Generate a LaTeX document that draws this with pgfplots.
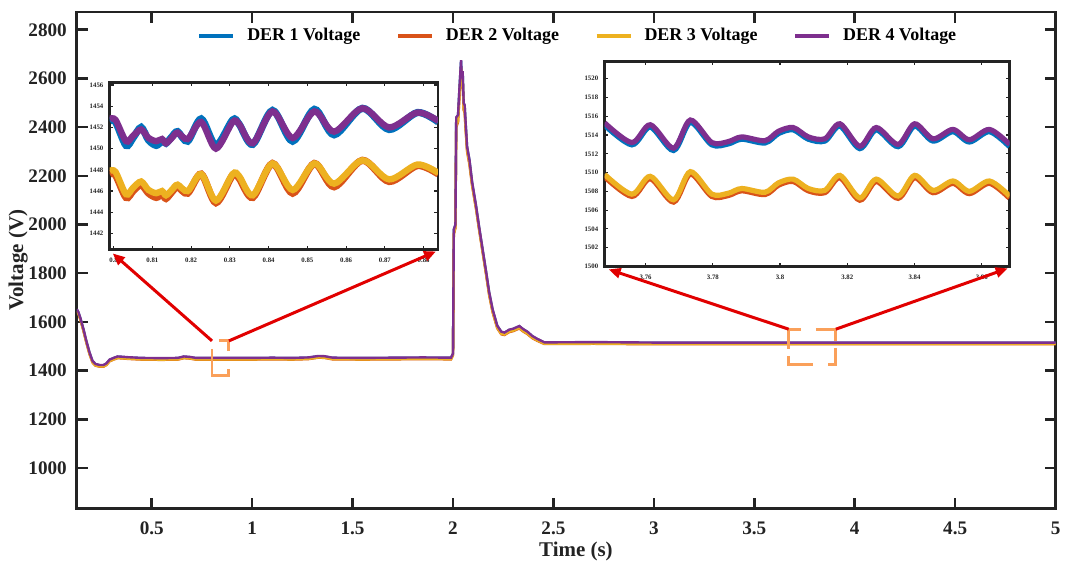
\documentclass[border=0pt]{standalone}
\usepackage{fontspec}
\setmainfont{Liberation Serif}
\usepackage{pgfplots}
\pgfplotsset{compat=1.18}
\usepackage{pgfplotstable}
\usetikzlibrary{arrows.meta}

\definecolor{der1}{rgb}{0,0.447,0.741}
\definecolor{der2}{rgb}{0.85,0.325,0.098}
\definecolor{der3}{rgb}{0.929,0.694,0.125}
\definecolor{der4}{rgb}{0.494,0.184,0.556}
\definecolor{zoomrect}{RGB}{250,160,90}
\definecolor{arrowred}{RGB}{225,0,0}
\definecolor{axcol}{RGB}{35,35,35}

\pgfplotstableread{
t v1 v2 v3 v4
0.127 1651 1645 1646 1652
0.135 1639 1633 1634 1640
0.145 1614 1608 1609 1615
0.160 1569 1563 1564 1570
0.175 1519 1513 1514 1520
0.190 1474 1468 1469 1475
0.205 1439 1433 1434 1440
0.220 1426 1420 1421 1427
0.240 1422 1416 1417 1423
0.260 1422 1416 1417 1423
0.275 1429 1423 1424 1430
0.290 1444 1438 1439 1445
0.310 1451 1445 1446 1452
0.330 1457 1451 1452 1458
0.350 1456 1450 1451 1457
0.380 1454 1448 1449 1455
0.450 1451 1445 1446 1452
0.550 1450 1444 1445 1451
0.630 1451 1445 1446 1452
0.660 1457 1451 1452 1458
0.690 1455 1449 1450 1456
0.720 1451 1445 1446 1452
0.850 1451 1445 1446 1452
1.000 1451 1445 1446 1452
1.100 1452 1446 1447 1453
1.200 1451 1445 1446 1452
1.280 1453 1447 1448 1454
1.330 1459 1453 1454 1460
1.360 1458 1452 1453 1459
1.400 1452 1446 1447 1453
1.550 1451 1445 1446 1452
1.700 1452 1446 1447 1453
1.850 1453 1447 1448 1454
1.990 1452 1446 1447 1453
2.000 1469 1463 1464 1470
2.004 1979 1960 1962 1980
2.012 1999 1985 1988 2000
2.016 2438 2400 2405 2440
2.025 2448 2420 2425 2450
2.032 2558 2520 2525 2560
2.040 2672 2640 2645 2675
2.044 2598 2560 2565 2600
2.048 2628 2590 2595 2630
2.053 2498 2470 2475 2500
2.058 2488 2460 2465 2490
2.062 2428 2400 2405 2430
2.070 2318 2300 2305 2320
2.082 2263 2245 2250 2265
2.095 2173 2160 2162 2175
2.115 2073 2062 2064 2075
2.130 1988 1978 1980 1990
2.147 1898 1888 1890 1900
2.165 1803 1793 1795 1805
2.180 1720 1710 1712 1722
2.197 1650 1640 1642 1652
2.220 1584 1574 1576 1585
2.240 1559 1549 1551 1560
2.256 1555 1546 1548 1556
2.280 1567 1558 1560 1568
2.300 1571 1562 1564 1572
2.330 1582 1573 1575 1583
2.350 1569 1560 1562 1570
2.370 1559 1550 1552 1560
2.395 1541 1533 1535 1542
2.420 1529 1522 1524 1530
2.455 1515 1509 1510 1516
2.500 1515 1509 1510 1516
2.700 1516 1510 1511 1517
3.000 1514 1508 1509 1515
3.500 1514 1508 1509 1515
4.000 1514 1508 1509 1515
4.500 1514 1508 1509 1515
5.000 1514 1508 1509 1515
}\maindata

\pgfplotstableread{
t v1 v2 v3 v4
0.7990 1452.6 1447.6 1447.9 1452.8
0.8005 1452.5 1447.5 1447.8 1452.7
0.8032 1450.3 1445.4 1445.7 1450.7
0.8050 1451.0 1446.0 1446.3 1451.2
0.8071 1452.0 1446.6 1446.9 1451.8
0.8090 1450.8 1445.8 1446.1 1451.0
0.8110 1450.3 1445.4 1445.8 1450.7
0.8125 1450.7 1445.7 1446.0 1450.9
0.8135 1450.5 1445.3 1445.6 1450.5
0.8150 1451.1 1445.9 1446.1 1451.0
0.8165 1451.6 1446.4 1446.6 1451.5
0.8191 1450.7 1445.8 1446.0 1450.9
0.8226 1452.8 1447.6 1447.6 1452.5
0.8264 1450.3 1444.9 1445.1 1450.0
0.8307 1452.7 1447.5 1447.6 1452.5
0.8324 1452.3 1447.2 1447.4 1452.3
0.8359 1450.4 1445.4 1445.6 1450.5
0.8410 1453.6 1448.6 1448.6 1453.5
0.8462 1450.7 1445.8 1446.1 1451.0
0.8518 1453.7 1448.6 1448.6 1453.5
0.8569 1451.3 1446.4 1446.7 1451.6
0.8642 1453.8 1448.9 1448.9 1453.8
0.8711 1451.8 1446.9 1447.1 1452.0
0.8784 1453.4 1448.4 1448.5 1453.4
0.8838 1452.5 1447.6 1447.7 1452.6
}\insetA

\pgfplotstableread{
t v1 v2 v3 v4
3.7478 1515.1 1509.6 1509.8 1515.3
3.7559 1513.0 1507.5 1507.7 1513.2
3.7614 1514.9 1509.4 1509.6 1515.1
3.7683 1512.4 1506.9 1507.1 1512.6
3.7733 1515.4 1509.9 1510.1 1515.6
3.7797 1513.0 1507.5 1507.7 1513.2
3.7846 1513.1 1507.6 1507.8 1513.3
3.7886 1513.6 1508.1 1508.3 1513.8
3.7955 1513.2 1507.7 1507.9 1513.4
3.7995 1514.2 1508.7 1508.9 1514.4
3.8039 1514.6 1509.1 1509.3 1514.8
3.8084 1513.6 1508.1 1508.3 1513.8
3.8133 1513.4 1507.9 1508.1 1513.6
3.8178 1515.0 1509.5 1509.7 1515.2
3.8237 1512.6 1507.1 1507.3 1512.8
3.8286 1514.6 1509.1 1509.3 1514.8
3.8351 1512.8 1507.3 1507.5 1513.0
3.8400 1515.0 1509.5 1509.7 1515.2
3.8455 1513.4 1507.9 1508.1 1513.6
3.8514 1514.4 1508.9 1509.1 1514.6
3.8563 1513.3 1507.8 1508.0 1513.5
3.8623 1514.4 1508.9 1509.1 1514.6
3.8683 1512.8 1507.3 1507.5 1513.0
}\insetB

\pgfplotsset{
  insetstyle/.style={
    scale only axis, anchor=south west,
    axis background/.style={fill=white},
    tick align=inside, tick pos=both,
    major tick length=1.8pt,
    tick style={line width=0.6pt, color=axcol},
    axis line style={line width=1.4pt, color=axcol},
    ticklabel style={font=\bfseries\fontsize{3.4}{4}\selectfont, color=axcol},
    /pgf/number format/assume math mode=true,
    /pgf/number format/1000 sep={},
    scaled ticks=false,
    xticklabel style={yshift=-1pt},
    yticklabel style={xshift=0.3pt},
    clip=true,
  },
}

\begin{document}
\begin{tikzpicture}
\begin{axis}[
  name=main, at={(0,0)}, anchor=south west,
  scale only axis, width=490.5pt, height=249pt,
  xmin=0.127, xmax=5, ymin=832, ymax=2873,
  xtick={0.5,1,1.5,2,2.5,3,3.5,4,4.5,5},
  ytick={1000,1200,1400,1600,1800,2000,2200,2400,2600,2800},
  tick align=inside, tick pos=both,
  major tick length=5.5pt,
  tick style={line width=1.3pt, color=axcol},
  axis line style={line width=1.4pt, color=axcol},
  ticklabel style={font=\bfseries\fontsize{9.6}{11}\selectfont, color=axcol},
  /pgf/number format/assume math mode=true,
  /pgf/number format/1000 sep={},
  scaled ticks=false,
  xticklabel style={yshift=-3pt},
  yticklabel style={xshift=-1.5pt},
  xlabel={Time (s)}, ylabel={Voltage (V)},
  label style={font=\bfseries\fontsize{10.5}{12}\selectfont, color=axcol},
  xlabel style={at={(axis description cs:0.51,-0.086)}, anchor=center},
  ylabel style={at={(axis description cs:-0.060,0.5)}, anchor=center},
  legend columns=4,
  legend style={at={(axis description cs:0.513,0.952)}, anchor=center,
    draw=none, fill=none,
    font=\bfseries\fontsize{9}{10}\selectfont,
    /tikz/every even column/.append style={column sep=16pt},
    /tikz/every odd column/.append style={column sep=4pt}},
  legend image post style={line width=1.8pt},
]
\addplot[der1, line width=1.2pt] table[x=t,y=v1] {\maindata};
\addlegendentry{DER 1 Voltage}
\addplot[der2, line width=1.2pt] table[x=t,y=v2] {\maindata};
\addlegendentry{DER 2 Voltage}
\addplot[der3, line width=1.2pt] table[x=t,y=v3] {\maindata};
\addlegendentry{DER 3 Voltage}
\addplot[der4, line width=1.2pt] table[x=t,y=v4] {\maindata};
\addlegendentry{DER 4 Voltage}

\coordinate (r1) at (axis cs:0.800,1522);
\coordinate (r1r) at (axis cs:0.8845,1522);
\coordinate (r2) at (axis cs:3.671,1570);
\coordinate (r2r) at (axis cs:3.906,1570);
\end{axis}

% zoom rectangle 1
\draw[zoomrect, line width=1.5pt] (r1) ++(3.5pt,0pt) -- ++(5pt,0pt) -- ++(0pt,-5pt);
\draw[zoomrect, line width=1.5pt] (r1) ++(0pt,-4pt) -- ++(0pt,-13.5pt) -- ++(8.5pt,0pt) -- ++(0pt,3.5pt);
% zoom rectangle 2
\draw[zoomrect, line width=1.5pt] (r2) ++(6.2pt,0pt) -- ++(-6.2pt,0pt) -- ++(0pt,-10pt);
\draw[zoomrect, line width=1.5pt] (r2) ++(0pt,-13.4pt) -- ++(0pt,-4.5pt) -- ++(12pt,0pt);
\draw[zoomrect, line width=1.5pt] (r2) ++(13.7pt,0pt) -- ++(10pt,0pt) -- ++(0pt,-5.8pt);
\draw[zoomrect, line width=1.5pt] (r2) ++(23.7pt,-9.2pt) -- ++(0pt,-8.7pt) -- ++(-4.2pt,0pt);

\begin{axis}[insetstyle, name=insA,
  at={(16.5pt,130pt)}, width=164.5pt, height=83.5pt,
  xmin=0.799, xmax=0.8837, ymin=1440.5, ymax=1456.2,
  xtick={0.80,0.81,0.82,0.83,0.84,0.85,0.86,0.87,0.88},
  xticklabels={0.8,0.81,0.82,0.83,0.84,0.85,0.86,0.87,0.88},
  ytick={1442,1444,1446,1448,1450,1452,1454,1456},
]
\addplot[der1, line width=3.6pt, smooth] table[x=t,y=v1] {\insetA};
\addplot[der4, line width=3.2pt, smooth] table[x=t,y=v4] {\insetA};
\addplot[der2, line width=3.6pt, smooth] table[x=t,y=v2] {\insetA};
\addplot[der3, line width=3.2pt, smooth] table[x=t,y=v3] {\insetA};
\end{axis}

\begin{axis}[insetstyle, name=insB,
  at={(264.5pt,121.5pt)}, width=203pt, height=102.5pt,
  xmin=3.7478, xmax=3.8683, ymin=1500, ymax=1521.8,
  xtick={3.76,3.78,3.80,3.82,3.84,3.86},
  xticklabels={3.76,3.78,3.8,3.82,3.84,3.86},
  ytick={1500,1502,1504,1506,1508,1510,1512,1514,1516,1518,1520},
]
\addplot[der1, line width=3.0pt, smooth] table[x=t,y=v1] {\insetB};
\addplot[der4, line width=2.6pt, smooth] table[x=t,y=v4] {\insetB};
\addplot[der2, line width=3.0pt, smooth] table[x=t,y=v2] {\insetB};
\addplot[der3, line width=2.6pt, smooth] table[x=t,y=v3] {\insetB};
\end{axis}

% arrows
\draw[arrowred, line width=1.5pt, -{Triangle[length=6pt,width=5pt]}] (r1) -- ([shift={(1.5pt,-2pt)}]insA.south west);
\draw[arrowred, line width=1.5pt, -{Triangle[length=6pt,width=5pt]}] (r1r) -- ([shift={(-1pt,-1pt)}]insA.south east);
\draw[arrowred, line width=1.5pt, -{Triangle[length=6pt,width=5pt]}] (r2) -- ([shift={(2pt,-1.5pt)}]insB.south west);
\draw[arrowred, line width=1.5pt, -{Triangle[length=6pt,width=5pt]}] (r2r) -- ([shift={(-1pt,-1pt)}]insB.south east);

\path (-38.5pt,-30pt) rectangle (495pt,255pt);
\end{tikzpicture}
\end{document}
